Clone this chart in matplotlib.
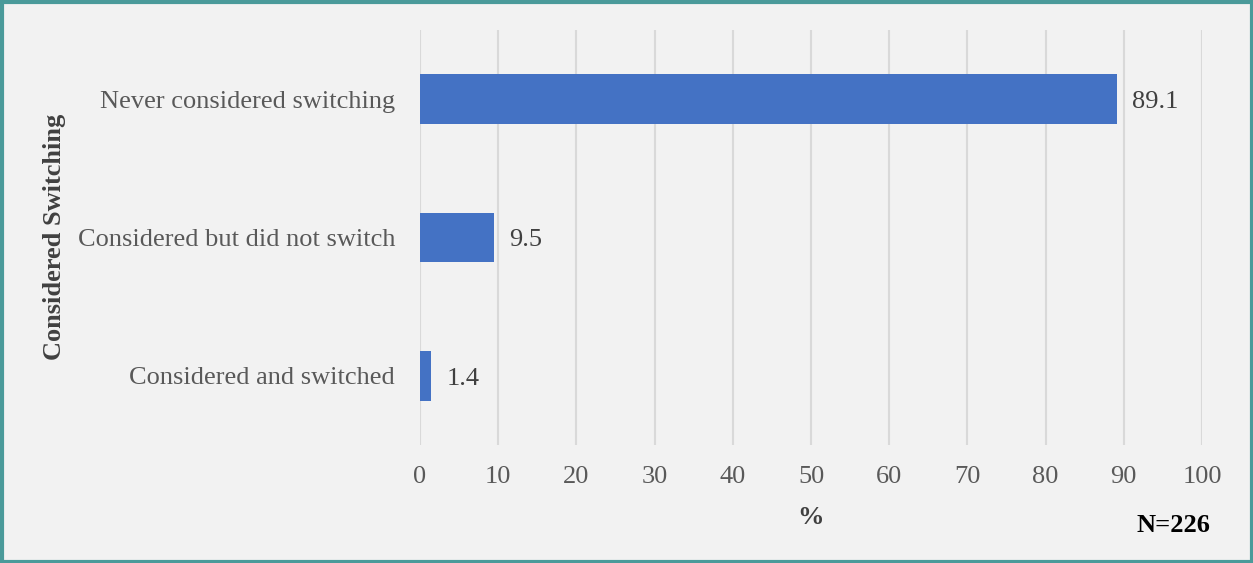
import matplotlib
matplotlib.use("Agg")
import matplotlib.pyplot as plt
from matplotlib.patches import Rectangle

categories = ["Considered and switched", "Considered but did not switch", "Never considered switching"]
values = [1.4, 9.5, 89.1]
xticks = [0, 10, 20, 30, 40, 50, 60, 70, 80, 90, 100]

plt.rcParams['font.family'] = ['Liberation Serif', 'DejaVu Serif']

W, H = 1253, 563
fig = plt.figure(figsize=(W/100, H/100), dpi=100)
fig.patch.set_facecolor('#f2f2f2')
ax = fig.add_axes([420/W, 1-445/H, (1202-420)/W, (445-30)/H])
ax.set_facecolor('#f2f2f2')

bars = ax.barh(range(len(categories)), values, height=0.36, color='#4472c4', zorder=3)
for i, v in enumerate(values):
    ax.annotate(f"{v}", (v, i), xytext=(11, -2), textcoords='offset points',
                va='center', ha='left', fontsize=19, color='#404040')

ax.set_xlim(0, 100)
ax.set_ylim(-0.5, 2.5)
ax.set_xticks(xticks)
ax.set_yticks(range(len(categories)))
ax.set_yticklabels(categories)
ax.tick_params(axis='both', length=0, labelsize=19, labelcolor='#595959')
ax.tick_params(axis='x', pad=15)
ax.tick_params(axis='y', pad=18)
ax.grid(axis='x', color='#d9d9d9', linewidth=1.5, zorder=0)
for s in ax.spines.values():
    s.set_visible(False)

fig.text(55/W, 1-237/H, "Considered Switching", rotation=90, ha='center', va='center',
         fontsize=19, fontweight='bold', color='#404040')
fig.text(810/W, 1-517/H, "%", ha='center', va='center', fontsize=19, fontweight='bold', color='#404040')
fig.text(1173/W, 1-526/H, "N=226", ha='center', va='center', fontsize=19, fontweight='bold', color='black')

fig.patches.append(Rectangle((1.5/W, 1.5/H), 1-3/W, 1-3/H, transform=fig.transFigure,
                             fill=False, edgecolor='#4a9a9a', linewidth=3))

fig.savefig("out.png", dpi=100, facecolor=fig.get_facecolor())
